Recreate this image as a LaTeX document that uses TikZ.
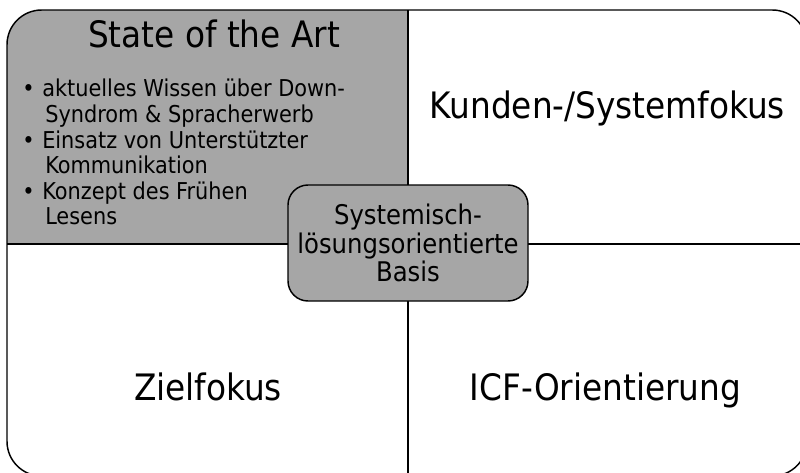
\documentclass[tikz,border=0pt]{standalone}
\usepackage{fontspec}
\setmainfont{DejaVu Sans Condensed}
\usetikzlibrary{positioning}
\definecolor{artgray}{HTML}{A6A6A6}
\tikzset{
  frame/.style = {draw=black, line width=1.1pt},% aeusserer Rahmen
  divider/.style = {draw=black, line width=1.5pt},% Kreuz in der Mitte
  quadlabel/.style = {anchor=base, inner sep=0pt,
    font=\fontsize{27.3}{32}\selectfont},% Feldname
  artlist/.style = {anchor=north west, inner sep=0pt, align=left,
    font=\fontsize{17.4}{19.2}\selectfont},% Stichpunkte
  basisbox/.style = {draw=black, fill=artgray, line width=1.1pt,
    rounded corners=15pt, minimum width=180pt, minimum height=87pt,
    align=center, inner sep=0pt, font=\fontsize{20.3}{21.4}\selectfont}% Mitte
}
\newcommand{\bul}{\makebox[15pt][l]{•}}
\newcommand{\ind}{\hspace*{17.25pt}}

\begin{document}
\begin{tikzpicture}[x=0.75pt,y=-0.75pt]
\useasboundingbox (0,0) rectangle (800,472);
\begin{scope}
  \clip[rounded corners=26pt] (7,10) rectangle (807,476);
  \fill[artgray] (7,10) rectangle (408,244);
\end{scope}
\draw[divider] (408,10) -- (408,476);
\draw[divider] (7,244) -- (807,244);
\draw[frame, rounded corners=26pt] (7,10) rectangle (807,476);

\node[quadlabel] (art) at (214,47) {State of the Art};
\node[artlist] (wissen) at (22,79) {\bul aktuelles Wissen über Down-\\
  \ind Syndrom \& Spracherwerb\\
  \bul Einsatz von Unterstützter\\
  \ind Kommunikation\\
  \bul Konzept des Frühen\\
  \ind Lesens};
\node[quadlabel] (kunden) at (607.5,118) {Kunden-/Systemfokus};
\node[quadlabel] (ziel) at (208,400) {Zielfokus};
\node[quadlabel] (icf) at (605.5,400) {ICF-Orientierung};
\node[basisbox] (basis) at (408,243) {Systemisch-\\
  lösungsorientierte\\ Basis};
\end{tikzpicture}
\end{document}
